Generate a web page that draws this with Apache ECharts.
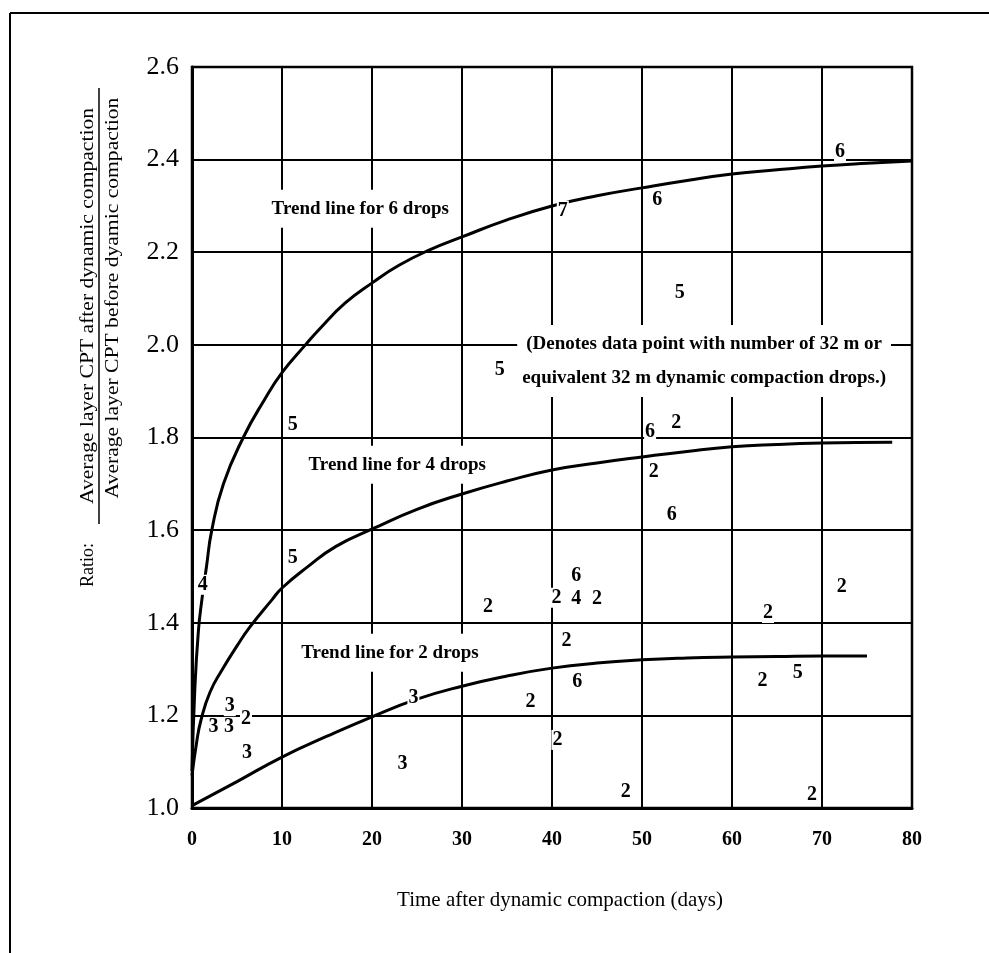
<!DOCTYPE html>
<html><head><meta charset="utf-8">
<script src="https://cdn.jsdelivr.net/npm/echarts@6/dist/echarts.min.js"></script>
<style>html,body{margin:0;padding:0;background:#fff}#c{width:989px;height:953px}</style>
</head><body><div id="c"></div>
<script>
// ---- data ----
const xTicks = [0, 10, 20, 30, 40, 50, 60, 70, 80];
const yTicks = [1.0, 1.2, 1.4, 1.6, 1.8, 2.0, 2.2, 2.4, 2.6];

const trend6X = [0, 0.3, 0.7, 1.1, 1.6, 2.2, 3.5, 5.7, 8, 10, 12.6, 14.2, 17, 20.1, 23, 26.4, 30, 35, 40, 45, 50, 55, 60, 65, 70, 75, 80];
const trend6Y = [1.08, 1.25, 1.38, 1.45, 1.52, 1.60, 1.70, 1.80, 1.88, 1.94, 2.00, 2.035, 2.09, 2.135, 2.172, 2.205, 2.233, 2.27, 2.30, 2.322, 2.339, 2.355, 2.369, 2.378, 2.386, 2.392, 2.397];

const trend4X = [0, 0.5, 1, 2, 3.4, 5, 6.4, 8.9, 10, 12.8, 16, 20.1, 25, 30, 35, 40, 45, 50, 55, 60, 65, 70, 77.8];
const trend4Y = [1.07, 1.14, 1.19, 1.25, 1.30, 1.35, 1.39, 1.45, 1.475, 1.52, 1.565, 1.603, 1.645, 1.678, 1.706, 1.73, 1.745, 1.758, 1.77, 1.78, 1.785, 1.788, 1.79];

const trend2X = [0, 5, 10, 15, 20, 25, 30, 35, 40, 45, 50, 55, 60, 65, 70, 75];
const trend2Y = [1.005, 1.057, 1.11, 1.155, 1.197, 1.235, 1.263, 1.285, 1.302, 1.313, 1.32, 1.324, 1.326, 1.327, 1.328, 1.328];

// data points: position and number of drops
const ptX = [72.0, 51.7, 41.2, 54.2, 34.2, 11.2, 11.2, 1.2, 32.9, 50.9, 53.8, 51.3, 53.3, 42.7, 40.5, 42.7, 45.0, 72.2, 64.0, 41.6, 42.8, 63.4, 67.3, 40.6, 48.2, 68.9, 24.6, 37.6, 23.4, 4.2, 2.4, 4.1, 6.0, 6.1];
const ptY = [2.417, 2.313, 2.29, 2.112, 1.946, 1.827, 1.540, 1.482, 1.434, 1.812, 1.832, 1.726, 1.633, 1.501, 1.454, 1.451, 1.451, 1.477, 1.421, 1.361, 1.272, 1.274, 1.292, 1.147, 1.035, 1.028, 1.238, 1.229, 1.095, 1.220, 1.175, 1.175, 1.192, 1.119];
const ptN = [6, 6, 7, 5, 5, 5, 5, 4, 2, 6, 2, 2, 6, 6, 2, 4, 2, 2, 2, 2, 6, 2, 5, 2, 2, 2, 3, 2, 3, 3, 3, 3, 2, 3];

// annotations (anchored in data coordinates)
const annText = ['Trend line for 6 drops', 'Trend line for 4 drops', 'Trend line for 2 drops',
  '(Denotes data point with number of 32 m or\nequivalent 32 m dynamic compaction drops.)'];
const annX = [18.7, 22.8, 22.0, 56.9];
const annY = [2.294, 1.741, 1.335, 1.965];

const xTitle = 'Time after dynamic compaction (days)';
const yTitleRatio = 'Ratio:';
const yTitleNum = 'Average layer CPT after dynamic compaction';
const yTitleDen = 'Average layer CPT before dyamic compaction';

// ---- chart ----
const serif = '"Liberation Serif", "Times New Roman", serif';
const zip = (xs, ys) => xs.map((x, i) => [x, ys[i]]);
const lineStyle = { color: '#000', width: 3 };

const chart = echarts.init(document.getElementById('c'), null, { renderer: 'canvas' });
chart.setOption({
  backgroundColor: '#fff',
  animation: false,
  grid: { left: 192, right: 77, top: 67, bottom: 145, show: true, borderColor: '#000', borderWidth: 2.5 },
  xAxis: {
    type: 'value', min: 0, max: 80, interval: 10,
    axisLine: { lineStyle: { color: '#000', width: 3 } },
    axisTick: { show: false },
    splitLine: { lineStyle: { color: '#000', width: 2 } },
    axisLabel: { color: '#000', fontFamily: serif, fontWeight: 'bold', fontSize: 20, margin: 22,
      formatter: v => xTicks.includes(v) ? String(v) : '' },
    name: xTitle, nameLocation: 'middle', nameGap: 82,
    nameTextStyle: { color: '#000', fontFamily: serif, fontSize: 21, padding: [0, 0, 0, 16] }
  },
  yAxis: {
    type: 'value', min: 1.0, max: 2.6, interval: 0.2,
    axisLine: { lineStyle: { color: '#000', width: 3 } },
    axisTick: { show: false },
    splitLine: { lineStyle: { color: '#000', width: 2 } },
    axisLabel: { color: '#000', fontFamily: serif, fontSize: 26, margin: 13,
      formatter: v => v.toFixed(1) }
  },
  graphic: [
    { type: 'line', shape: { x1: 10, y1: 13, x2: 989, y2: 13 }, style: { stroke: '#000', lineWidth: 2 } },
    { type: 'line', shape: { x1: 10, y1: 13, x2: 10, y2: 953 }, style: { stroke: '#000', lineWidth: 2 } },
    { type: 'text', x: 88, y: 565, rotation: Math.PI / 2,
      style: { text: yTitleRatio, font: '18px ' + serif, fill: '#000', textAlign: 'center', textVerticalAlign: 'middle' } },
    { type: 'text', x: 88, y: 306, rotation: Math.PI / 2, scaleX: 1.2,
      style: { text: yTitleNum, font: '18px ' + serif, fill: '#000', textAlign: 'center', textVerticalAlign: 'middle' } },
    { type: 'line', shape: { x1: 99, y1: 88, x2: 99, y2: 524 }, style: { stroke: '#000', lineWidth: 1.5 } },
    { type: 'text', x: 113, y: 298, rotation: Math.PI / 2, scaleX: 1.2,
      style: { text: yTitleDen, font: '18px ' + serif, fill: '#000', textAlign: 'center', textVerticalAlign: 'middle' } }
  ],
  series: [
    { name: '6 drops', type: 'line', data: zip(trend6X, trend6Y), smooth: 0.5, showSymbol: false, lineStyle, z: 3 },
    { name: '4 drops', type: 'line', data: zip(trend4X, trend4Y), smooth: 0.5, showSymbol: false, lineStyle, z: 3 },
    { name: '2 drops', type: 'line', data: zip(trend2X, trend2Y), smooth: 0.5, showSymbol: false, lineStyle, z: 3 },
    { name: 'points', type: 'scatter', z: 5, symbolSize: 0, itemStyle: { color: 'transparent', opacity: 1 },
      data: ptX.map((x, i) => [x, ptY[i], ptN[i]]),
      label: { show: true, position: 'inside', formatter: p => String(p.value[2]),
        color: '#000', opacity: 1, fontFamily: serif, fontWeight: 'bold', fontSize: 20, textBorderWidth: 0,
        backgroundColor: '#fff', padding: [0, 1] } },
    { name: 'notes', type: 'scatter', z: 6, symbolSize: 0, itemStyle: { color: 'transparent', opacity: 1 },
      data: annX.map((x, i) => [x, annY[i], annText[i]]),
      label: { show: true, position: 'inside', formatter: p => p.value[2],
        color: '#000', opacity: 1, fontFamily: serif, fontWeight: 'bold', fontSize: 19, lineHeight: 34, textBorderWidth: 0,
        backgroundColor: '#fff', padding: [2, 5] } }
  ]
});
</script></body></html>
